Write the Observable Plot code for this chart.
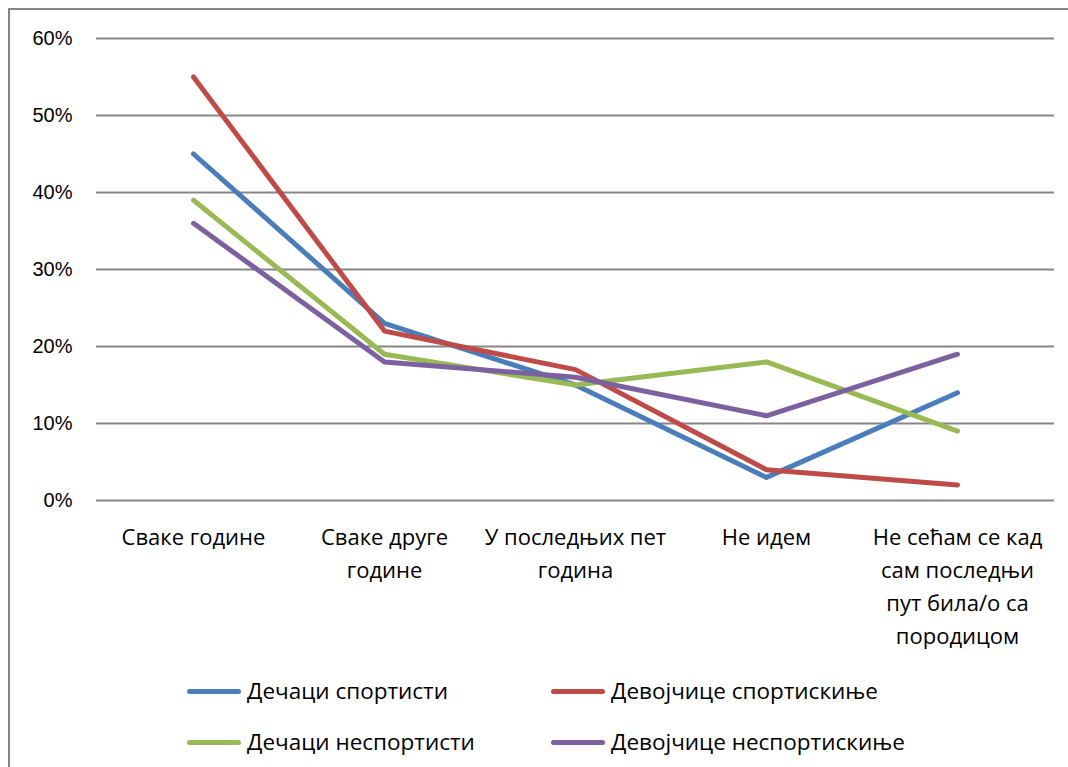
<!DOCTYPE html>
<html>
<head>
<meta charset="utf-8">
<script src="https://cdn.jsdelivr.net/npm/d3@7"></script>
<script src="https://cdn.jsdelivr.net/npm/@observablehq/plot@0.6"></script>
<style>
  html, body { margin: 0; padding: 0; background: #fff; overflow: hidden; width: 1068px; height: 767px; }
  body { font-family: "Open Sans", "Liberation Sans", Arial, sans-serif; position: relative; }
  #frame { position: absolute; left: 8px; top: 8px; width: 1100px; height: 800px; border: 2px solid #868686; box-sizing: border-box; pointer-events: none; }
  #chart svg { display: block; }
  #legend { position: relative; width: 1068px; height: 107px; }
  .item { position: absolute; display: flex; align-items: center; font-size: 22.5px; color: #000; white-space: nowrap; line-height: 26px; }
  .sw { width: 54px; height: 5px; border-radius: 3px; margin-right: 6px; }
</style>
</head>
<body>
<div id="chart"></div>
<div id="legend"></div>
<div id="frame"></div>
<script>
const categories = ["Сваке године", "Сваке друге године", "У последњих пет година", "Не идем", "Не сећам се кад сам последњи пут била/о са породицом"];
const tickLabels = ["Сваке године", "Сваке друге\nгодине", "У последњих пет\nгодина", "Не идем", "Не сећам се кад\nсам последњи\nпут била/о са\nпородицом"];
const seriesNames = ["Дечаци спортисти", "Девојчице спортискиње", "Дечаци неспортисти", "Девојчице неспортискиње"];
const seriesColors = ["#4A7EBB", "#BE4B48", "#98B954", "#7D60A0"];
const boysAthletes = [0.45, 0.23, 0.15, 0.03, 0.14];
const girlsAthletes = [0.55, 0.22, 0.17, 0.04, 0.02];
const boysNonAthletes = [0.39, 0.19, 0.15, 0.18, 0.09];
const girlsNonAthletes = [0.36, 0.18, 0.16, 0.11, 0.19];
const yTicks = [0, 0.1, 0.2, 0.3, 0.4, 0.5, 0.6];

const seriesValues = [boysAthletes, girlsAthletes, boysNonAthletes, girlsNonAthletes];
const data = seriesValues.flatMap((vals, s) => vals.map((v, i) => ({series: seriesNames[s], category: categories[i], value: v})));
const labelRows = categories.map((c, i) => ({category: c, label: tickLabels[i]}));

const chart = Plot.plot({
  width: 1068,
  height: 660,
  marginTop: 38,
  marginBottom: 160,
  marginLeft: 96,
  marginRight: 14,
  style: { fontFamily: "Open Sans, Liberation Sans, Arial, sans-serif", fontSize: "20px", color: "#000", background: "#fff" },
  x: { type: "point", domain: categories, padding: 0.5, axis: null },
  y: { domain: [0, 0.6], ticks: yTicks, tickFormat: d3.format(".0%"), label: null },
  color: { domain: seriesNames, range: seriesColors },
  marks: [
    Plot.gridY(yTicks, { stroke: "#868686", strokeOpacity: 1, strokeWidth: 2 }),
    Plot.axisY(yTicks, { tickSize: 0, tickPadding: 24, tickFormat: d3.format(".0%"), fontSize: 20, fontFamily: "Liberation Sans, Arial, sans-serif", label: null }),
    Plot.line(data, { x: "category", y: "value", z: "series", stroke: "series", strokeWidth: 5, strokeLinecap: "round", strokeLinejoin: "round" }),
    Plot.text(labelRows, { x: "category", text: "label", frameAnchor: "bottom", lineAnchor: "top", dy: 21, lineHeight: 1.5, fontSize: 22, fill: "#000" })
  ]
});
document.getElementById("chart").appendChild(chart);

const legendPos = [[187, 31], [551, 31], [187, 82], [551, 82]];
const legend = document.getElementById("legend");
seriesNames.forEach((name, i) => {
  const it = document.createElement("div");
  it.className = "item";
  it.style.left = legendPos[i][0] + "px";
  it.style.top = (legendPos[i][1] - 13) + "px";
  const sw = document.createElement("div");
  sw.className = "sw";
  sw.style.background = seriesColors[i];
  const t = document.createElement("span");
  t.textContent = name;
  it.appendChild(sw); it.appendChild(t);
  legend.appendChild(it);
});
</script>
</body>
</html>
